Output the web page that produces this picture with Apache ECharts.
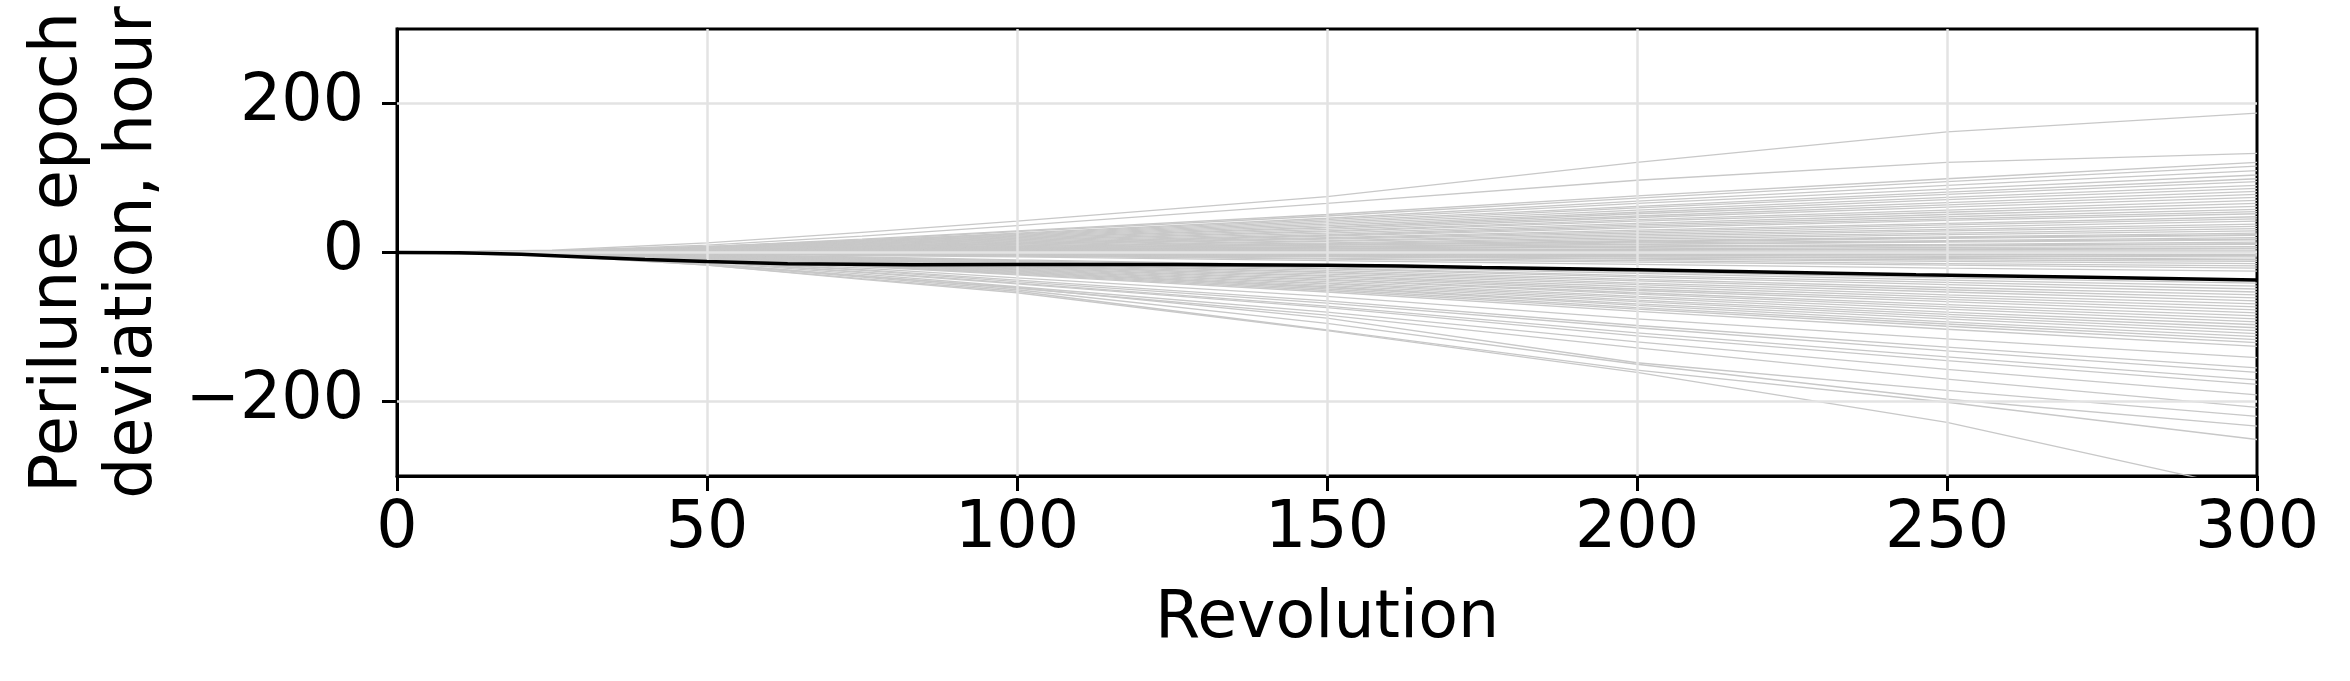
<!DOCTYPE html>
<html>
<head>
<meta charset="utf-8">
<script src="https://cdn.jsdelivr.net/npm/echarts@6/dist/echarts.min.js"></script>
<style>
  html, body { margin: 0; padding: 0; background: #fff; }
  #chart { width: 2350px; height: 681px; }
</style>
</head>
<body>
<div id="chart"></div>
<script>
const revs = [0, 25, 50, 75, 100, 150, 200, 250, 300];

// dispersed runs (hours), one row per run
const runs = [
  [0, 3, 13, 27, 42, 75, 121, 162, 187],
  [0, 2, 10, 22, 36, 66, 97, 121, 133],
  [0, 2, 8, 18, 29, 51, 76, 99, 121],
  [0, 2, 8, 17, 28, 49, 73, 95, 116],
  [0, 2, 8, 16, 26, 46, 69, 90, 110],
  [0, 2, 7, 16, 25, 44, 66, 85, 104],
  [0, 1, 7, 15, 24, 42, 62, 81, 99],
  [0, 1, 7, 14, 23, 40, 60, 78, 95],
  [0, 1, 6, 14, 22, 38, 57, 74, 90],
  [0, 1, 6, 13, 21, 36, 54, 71, 86],
  [0, 1, 6, 12, 20, 34, 52, 67, 82],
  [0, 1, 5, 12, 19, 33, 49, 64, 78],
  [0, 1, 5, 11, 18, 31, 47, 61, 74],
  [0, 1, 5, 11, 17, 29, 44, 57, 70],
  [0, 1, 5, 10, 16, 28, 42, 54, 66],
  [0, 1, 4, 9, 15, 26, 39, 51, 62],
  [0, 1, 4, 9, 14, 24, 37, 48, 58],
  [0, 1, 4, 8, 13, 23, 35, 45, 55],
  [0, 1, 4, 8, 12, 22, 33, 43, 52],
  [0, 1, 3, 7, 12, 20, 30, 39, 48],
  [0, 1, 3, 7, 11, 19, 28, 37, 45],
  [0, 1, 3, 6, 10, 18, 26, 34, 42],
  [0, 1, 3, 6, 9, 16, 24, 31, 38],
  [0, 1, 2, 5, 8, 15, 22, 29, 35],
  [0, 0, 2, 5, 8, 13, 20, 26, 32],
  [0, 0, 2, 4, 7, 12, 18, 24, 29],
  [0, 0, 2, 4, 6, 11, 16, 21, 26],
  [0, 0, 2, 4, 6, 10, 15, 20, 24],
  [0, 0, 2, 3, 6, 10, 14, 19, 23],
  [0, 0, 1, 3, 5, 8, 13, 16, 20],
  [0, 0, 1, 3, 4, 8, 11, 15, 18],
  [0, 0, 1, 3, 4, 7, 11, 14, 17],
  [0, 0, 1, 2, 3, 6, 9, 11, 14],
  [0, 0, 1, 2, 3, 5, 8, 10, 12],
  [0, 0, 1, 2, 3, 5, 7, 9, 11],
  [0, 0, 1, 1, 2, 3, 5, 7, 8],
  [0, 0, 0, 1, 1, 3, 4, 5, 6],
  [0, 0, 0, 1, 1, 2, 3, 4, 5],
  [0, 0, 0, 0, 0, 1, 1, 2, 2],
  [0, 0, 0, 0, 0, 0, 1, 1, 1],
  [0, 0, 0, 0, 0, 0, 0, 0, 0],
  [0, 0, 0, 0, -1, -1, -2, -2, -3],
  [0, 0, 0, -1, -1, -2, -3, -3, -4],
  [0, 0, 0, -1, -1, -3, -4, -5, -6],
  [0, 0, -1, -1, -2, -4, -6, -7, -9],
  [0, 0, -1, -2, -2, -4, -6, -8, -10],
  [0, 0, -1, -2, -3, -5, -8, -10, -12],
  [0, 0, -1, -2, -4, -6, -9, -12, -15],
  [0, 0, -1, -3, -4, -8, -11, -15, -18],
  [0, 0, -1, -3, -5, -9, -13, -17, -21],
  [0, 0, -2, -4, -6, -11, -16, -21, -25],
  [0, 0, -3, -6, -10, -17, -26, -34, -41],
  [0, -1, -3, -7, -11, -19, -28, -37, -45],
  [0, -1, -3, -7, -12, -21, -31, -40, -49],
  [0, -1, -4, -8, -13, -22, -33, -43, -53],
  [0, -1, -4, -9, -14, -24, -36, -47, -57],
  [0, -1, -4, -9, -15, -26, -38, -50, -61],
  [0, -1, -5, -10, -16, -27, -41, -53, -65],
  [0, -1, -5, -10, -17, -29, -43, -57, -69],
  [0, -1, -5, -11, -18, -31, -46, -60, -73],
  [0, -1, -5, -12, -18, -32, -49, -63, -77],
  [0, -1, -6, -12, -19, -34, -51, -66, -81],
  [0, -1, -6, -13, -20, -36, -54, -70, -85],
  [0, -1, -6, -13, -21, -37, -56, -73, -89],
  [0, -1, -7, -14, -22, -39, -59, -76, -93],
  [0, -1, -7, -15, -23, -41, -61, -80, -97],
  [0, -2, -7, -15, -24, -42, -64, -83, -101],
  [0, -2, -7, -16, -25, -44, -66, -86, -105],
  [0, -2, -8, -16, -26, -46, -69, -89, -109],
  [0, -2, -8, -17, -27, -47, -71, -93, -113],
  [0, -2, -8, -18, -28, -49, -74, -96, -117],
  [0, -2, -8, -18, -29, -51, -76, -99, -121],
  [0, -2, -9, -19, -30, -53, -79, -103, -126],
  [0, -2, -10, -21, -34, -59, -89, -116, -141],
  [0, -2, -11, -23, -37, -65, -98, -127, -155],
  [0, -2, -11, -24, -39, -68, -101, -132, -161],
  [0, -3, -12, -26, -41, -72, -108, -140, -171],
  [0, -3, -12, -27, -42, -74, -112, -145, -177],
  [0, -3, -13, -29, -46, -80, -120, -157, -191],
  [0, -3, -15, -31, -48, -84, -128, -170, -208],
  [0, -3, -15, -32, -47, -88, -148, -185, -220],
  [0, -3, -16, -33, -50, -95, -150, -197, -233],
  [0, -4, -17, -35, -52, -104, -158, -201, -251],
  [0, -4, -17, -36, -54, -105, -161, -228, -320]
];

// nominal run (black)
const nomRevs = [0, 10, 15, 20, 30, 40, 50, 63, 83, 100, 125, 150, 162, 175, 200, 225, 245, 270, 300];
const nomVals = [0, -0.5, -1.5, -2.5, -6, -9.5, -12, -15, -16.5, -16, -16, -17, -18, -20, -23, -27, -30, -33, -37];

const xTicks = [0, 50, 100, 150, 200, 250, 300];
const yTicks = [-200, 0, 200];

const chart = echarts.init(document.getElementById('chart'), null, { renderer: 'canvas' });

const FONT = 'DejaVu Sans';
const FS = 65;

const series = [];
// grid lines (kept inside the frame so the black border stays on top)
series.push({
  type: 'line',
  data: [],
  z: 1,
  silent: true,
  markLine: {
    silent: true,
    symbol: 'none',
    label: { show: false },
    lineStyle: { color: '#e3e3e3', width: 2.5, type: 'solid' },
    data: yTicks.map(v => ({ yAxis: v }))
      .concat(xTicks.slice(1, -1).map(v => ({ xAxis: v })))
  }
});
runs.forEach(function (r) {
  series.push({
    type: 'line',
    data: revs.map((x, i) => [x, r[i]]),
    showSymbol: false,
    silent: true,
    z: 2,
    lineStyle: { color: '#c8c8c8', width: 1.3 }
  });
});
series.push({
  type: 'line',
  data: nomRevs.map((x, i) => [x, nomVals[i]]),
  showSymbol: false,
  silent: true,
  z: 5,
  lineStyle: { color: '#000', width: 3.5 }
});

const option = {
  backgroundColor: '#fff',
  animation: false,
  textStyle: { fontFamily: FONT },
  grid: {
    left: 397,
    top: 29,
    width: 1860,
    height: 447,
    show: true,
    borderColor: '#000',
    borderWidth: 3,
    backgroundColor: 'transparent'
  },
  xAxis: {
    type: 'value',
    min: 0,
    max: 300,
    interval: 50,
    name: 'Revolution',
    nameLocation: 'middle',
    nameGap: 112,
    nameTextStyle: { fontFamily: FONT, fontSize: FS, color: '#000' },
    axisLine: { show: true, onZero: false, lineStyle: { color: '#000', width: 3 } },
    axisTick: { show: true, length: 15, lineStyle: { color: '#000', width: 3 } },
    axisLabel: { fontFamily: FONT, fontSize: FS, color: '#000', margin: 22 },
    splitLine: { show: false }
  },
  yAxis: {
    type: 'value',
    min: -300,
    max: 300,
    interval: 100,
    name: 'Perilune epoch\ndeviation, hour',
    nameLocation: 'middle',
    nameRotate: 90,
    nameGap: 225,
    nameTextStyle: { fontFamily: FONT, fontSize: FS, color: '#000', lineHeight: 75, align: 'center' },
    axisLine: { show: true, onZero: false, lineStyle: { color: '#000', width: 3 } },
    axisTick: { show: true, length: 15, customValues: yTicks, lineStyle: { color: '#000', width: 3 } },
    axisLabel: {
      fontFamily: FONT, fontSize: FS, color: '#000', margin: 33,
      customValues: yTicks,
      formatter: function (v) { return v < 0 ? '\u2212' + Math.abs(v) : String(v); }
    },
    splitLine: { show: false }
  },
  series: series
};

chart.setOption(option);
</script>
</body>
</html>
